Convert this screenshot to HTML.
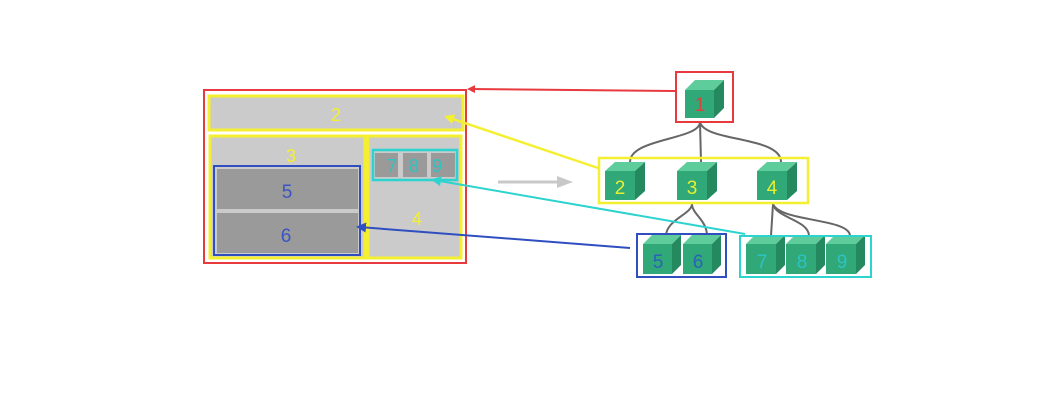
<!DOCTYPE html>
<html><head><meta charset="utf-8"><style>
html,body{margin:0;padding:0;background:#fff;width:1062px;height:400px;overflow:hidden}
text{font-family:"Liberation Sans","DejaVu Sans",sans-serif;text-anchor:middle}
</style></head><body>
<svg width="1062" height="400" viewBox="0 0 1062 400" xmlns="http://www.w3.org/2000/svg">
<defs>
<marker id="ar" markerWidth="8" markerHeight="8" refX="6" refY="4" orient="auto" markerUnits="userSpaceOnUse"><path d="M0,0 L8,4 L0,8 z" fill="#e8393f"/></marker>
<marker id="ay" markerWidth="10" markerHeight="10" refX="7" refY="5" orient="auto" markerUnits="userSpaceOnUse"><path d="M0,0 L10,5 L0,10 z" fill="#f4ef30"/></marker>
<marker id="ac" markerWidth="10" markerHeight="10" refX="7" refY="5" orient="auto" markerUnits="userSpaceOnUse"><path d="M0,0 L10,5 L0,10 z" fill="#2cd3cf"/></marker>
<marker id="ab" markerWidth="10" markerHeight="10" refX="7" refY="5" orient="auto" markerUnits="userSpaceOnUse"><path d="M0,0 L10,5 L0,10 z" fill="#2f4fc0"/></marker>
</defs>

<!-- left layout -->
<rect x="204" y="90" width="262" height="173" fill="#fff" stroke="#e8393f" stroke-width="2"/>
<rect x="209" y="96" width="254" height="34" fill="#cbcbcb" stroke="#f4ef30" stroke-width="3"/>
<text x="336" y="121" font-size="18" fill="#f4ef30">2</text>
<rect x="210" y="136" width="155" height="122" fill="#cbcbcb" stroke="#f4ef30" stroke-width="3"/>
<text x="291" y="162" font-size="18" fill="#f4ef30">3</text>
<rect x="368" y="136" width="93" height="122" fill="#cbcbcb" stroke="#f4ef30" stroke-width="3"/>
<text x="417" y="225" font-size="18" fill="#f4ef30">4</text>
<rect x="217" y="169" width="141" height="40" fill="#9a9a9a"/>
<rect x="217" y="213" width="141" height="40" fill="#9a9a9a"/>
<rect x="214" y="166" width="146" height="89" fill="none" stroke="#2f4fc0" stroke-width="2"/>
<text x="287" y="198" font-size="19" fill="#3a55c2">5</text>
<text x="286" y="242" font-size="19" fill="#3a55c2">6</text>
<rect x="375" y="153" width="23" height="24" fill="#9a9a9a"/>
<rect x="403" y="153" width="24" height="24" fill="#9a9a9a"/>
<rect x="431" y="153" width="24" height="24" fill="#9a9a9a"/>
<rect x="373" y="150" width="84" height="30" fill="none" stroke="#2cd3cf" stroke-width="2.5"/>
<text x="392" y="172" font-size="18" fill="#2cc3c3">7</text>
<text x="414" y="172" font-size="18" fill="#2cc3c3">8</text>
<text x="437" y="172" font-size="18" fill="#2cc3c3">9</text>

<!-- gray arrow -->
<line x1="498" y1="182" x2="560" y2="182" stroke="#c8c8c8" stroke-width="3"/>
<path d="M557,176 L573,182 L557,188 z" fill="#c8c8c8"/>

<!-- tree connectors -->
<g fill="none" stroke="#666" stroke-width="2">
<path d="M700,122 C700,140 630,138 630,162"/>
<path d="M700,122 L701,162"/>
<path d="M700,122 C704,142 781,136 781,162"/>
<path d="M692,204 C692,214 666,220 666,236"/>
<path d="M692,204 C692,214 707,220 707,236"/>
<path d="M773,204 L771,236"/>
<path d="M773,204 C776,218 809,220 809,236"/>
<path d="M773,204 C780,222 850,218 850,236"/>
</g>

<!-- cubes -->
<g id="cubes">
<!-- cube(x,y) front 30x29, depth 10 -->
</g>
<g>
<!-- 1 -->
<polygon points="685,90 695,80 724,80 714,90" fill="#5fcc9b"/><polygon points="714,90 724,80 724,108 714,118" fill="#24895f"/><rect x="685" y="90" width="29" height="28" fill="#31a878"/>
<!-- 2 -->
<polygon points="605,171 615,162 645,162 635,171" fill="#5fcc9b"/><polygon points="635,171 645,162 645,191 635,200" fill="#24895f"/><rect x="605" y="171" width="30" height="29" fill="#31a878"/>
<!-- 3 -->
<polygon points="677,171 687,162 717,162 707,171" fill="#5fcc9b"/><polygon points="707,171 717,162 717,191 707,200" fill="#24895f"/><rect x="677" y="171" width="30" height="29" fill="#31a878"/>
<!-- 4 -->
<polygon points="757,171 767,162 797,162 787,171" fill="#5fcc9b"/><polygon points="787,171 797,162 797,191 787,200" fill="#24895f"/><rect x="757" y="171" width="30" height="29" fill="#31a878"/>
<!-- 5 -->
<polygon points="643,244 652,235 681,235 672,244" fill="#5fcc9b"/><polygon points="672,244 681,235 681,265 672,274" fill="#24895f"/><rect x="643" y="244" width="29" height="30" fill="#31a878"/>
<!-- 6 -->
<polygon points="683,244 692,235 721,235 712,244" fill="#5fcc9b"/><polygon points="712,244 721,235 721,265 712,274" fill="#24895f"/><rect x="683" y="244" width="29" height="30" fill="#31a878"/>
<!-- 7 -->
<polygon points="746,244 755,235 785,235 776,244" fill="#5fcc9b"/><polygon points="776,244 785,235 785,265 776,274" fill="#24895f"/><rect x="746" y="244" width="30" height="30" fill="#31a878"/>
<!-- 8 -->
<polygon points="786,244 795,235 825,235 816,244" fill="#5fcc9b"/><polygon points="816,244 825,235 825,265 816,274" fill="#24895f"/><rect x="786" y="244" width="30" height="30" fill="#31a878"/>
<!-- 9 -->
<polygon points="826,244 835,235 865,235 856,244" fill="#5fcc9b"/><polygon points="856,244 865,235 865,265 856,274" fill="#24895f"/><rect x="826" y="244" width="30" height="30" fill="#31a878"/>
</g>
<text x="700" y="111" font-size="19" fill="#d9433f">1</text>
<text x="620" y="194" font-size="19" fill="#e8f030">2</text>
<text x="692" y="194" font-size="19" fill="#e8f030">3</text>
<text x="772" y="194" font-size="19" fill="#e8f030">4</text>
<text x="658" y="268" font-size="19" fill="#2a62b8">5</text>
<text x="698" y="268" font-size="19" fill="#2a62b8">6</text>
<text x="762" y="268" font-size="19" fill="#2cc3c3">7</text>
<text x="802" y="268" font-size="19" fill="#2cc3c3">8</text>
<text x="842" y="268" font-size="19" fill="#2cc3c3">9</text>

<!-- tree group boxes -->
<rect x="676" y="72" width="57" height="50" fill="none" stroke="#e8393f" stroke-width="2"/>
<rect x="599" y="158" width="209" height="45" fill="none" stroke="#f4ef30" stroke-width="2.5"/>
<rect x="637" y="234" width="89" height="43" fill="none" stroke="#2f4fc0" stroke-width="2"/>
<rect x="740" y="236" width="131" height="41" fill="none" stroke="#2cd3cf" stroke-width="2"/>

<!-- mapping arrows -->
<line x1="675" y1="91" x2="469" y2="89" stroke="#e8393f" stroke-width="2" marker-end="url(#ar)"/>
<line x1="598" y1="168" x2="447" y2="117" stroke="#f4ef30" stroke-width="2.5" marker-end="url(#ay)"/>
<line x1="745" y1="234" x2="434" y2="180" stroke="#2cd3cf" stroke-width="2" marker-end="url(#ac)"/>
<line x1="630" y1="248" x2="359" y2="227" stroke="#2f4fc0" stroke-width="2" marker-end="url(#ab)"/>
</svg>
</body></html>
